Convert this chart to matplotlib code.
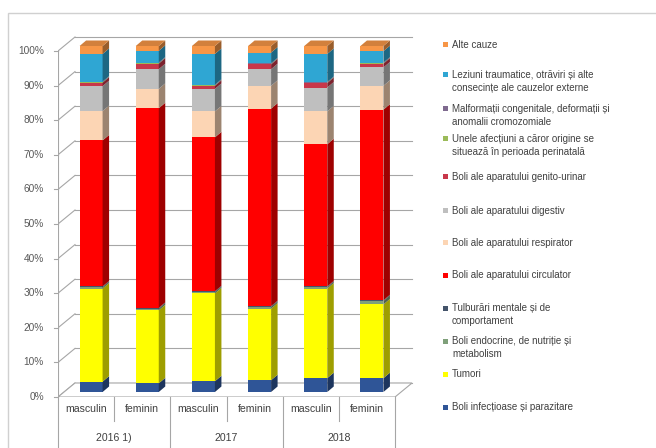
import matplotlib
matplotlib.use("Agg")
import matplotlib.pyplot as plt
from matplotlib.patches import Polygon, Rectangle
from matplotlib.colors import to_rgb
import numpy as np

plt.rcParams['font.family'] = ['Liberation Sans', 'DejaVu Sans']

# --- data (percent of deaths by cause, stacked bottom -> top) ---
bar_labels = ["masculin", "feminin", "masculin", "feminin", "masculin", "feminin"]
years = ["2016 1)", "2017", "2018"]

cause_names = [
    "Boli infecțioase și parazitare",
    "Tumori",
    "Boli endocrine, de nutriție și\nmetabolism",
    "Tulburări mentale și de\ncomportament",
    "Boli ale aparatului circulator",
    "Boli ale aparatului respirator",
    "Boli ale aparatului digestiv",
    "Boli ale aparatului genito-urinar",
    "Unele afecțiuni a căror origine se\nsituează în perioada perinatală",
    "Malformații congenitale, deformații și\nanomalii cromozomiale",
    "Leziuni traumatice, otrăviri și alte\nconsecințe ale cauzelor externe",
    "Alte cauze",
]
cause_colors = [
    "#2F5597", "#FFFF00", "#7FA07A", "#44546A", "#FF0000", "#FCD5B4",
    "#BFBFBF", "#C8374A", "#9BBB59", "#7F6A8F", "#2FA6D3", "#F79646",
]

infectioase = [3.0, 2.5, 3.1, 3.4, 4.0, 4.0]
tumori      = [26.9, 21.1, 25.4, 20.7, 25.9, 21.3]
endocrine   = [0.4, 0.5, 0.4, 0.5, 0.4, 1.0]
mentale     = [0.2, 0.2, 0.2, 0.2, 0.2, 0.2]
circulator  = [42.2, 57.7, 44.5, 57.1, 41.1, 55.1]
respirator  = [8.5, 5.6, 7.5, 6.6, 9.5, 6.9]
digestiv    = [7.2, 5.7, 6.5, 4.8, 6.9, 5.3]
genito      = [1.0, 1.6, 0.9, 1.4, 1.3, 1.1]
perinatal   = [0.1, 0.1, 0.1, 0.1, 0.1, 0.1]
malformatii = [0.2, 0.2, 0.2, 0.2, 0.2, 0.2]
leziuni     = [8.0, 3.4, 8.9, 3.1, 8.1, 3.3]
alte        = [2.3, 1.4, 2.3, 1.9, 2.3, 1.5]

series = [infectioase, tumori, endocrine, mentale, circulator, respirator,
          digestiv, genito, perinatal, malformatii, leziuni, alte]

yticks = list(range(0, 101, 10))

# --- figure geometry ---
W, H = 656, 448
fig = plt.figure(figsize=(W / 100, H / 100), dpi=100)


def fx(px):
    return px / W


def fy(py):
    return 1 - py / H


# outer chart frame
fig.patches.append(Rectangle((fx(8), fy(H + 20)), 1.2, fy(13) - fy(H + 20),
                             transform=fig.transFigure, fill=False,
                             edgecolor="#D0D0D0", linewidth=1.0))

PX_CAT = 56.17   # pixels per category
PX_PCT = 3.46    # pixels per percent
left_px, bottom_px, right_px, top_px = 58, 397, 430, 25
ax = fig.add_axes([fx(left_px), fy(bottom_px), fx(right_px) - fx(left_px),
                   fy(top_px) - fy(bottom_px)])
ax.set_xlim(-0.5, -0.5 + (right_px - left_px) / PX_CAT)
ax.set_ylim(0, (bottom_px - top_px) / PX_PCT)
ax.axis("off")

n = len(bar_labels)
x = np.arange(n)

# depth offsets (data units)
WALL_DX, WALL_DY = 17 / PX_CAT, 14 / PX_PCT
SHIFT_X, SHIFT_Y = 5 / PX_CAT, 5 / PX_PCT
BAR_DX, BAR_DY = 6.5 / PX_CAT, 5.5 / PX_PCT
BAR_W = 23 / PX_CAT
x_front_l, x_front_r = -0.5, n - 0.5

grid_c = "#A6A6A6"
# back-wall gridlines and their diagonals to the front axis
for v in yticks:
    ax.plot([x_front_l, x_front_l + WALL_DX], [v, v + WALL_DY], color=grid_c,
            lw=0.8, zorder=1)
    ax.plot([x_front_l + WALL_DX, x_front_r + WALL_DX], [v + WALL_DY, v + WALL_DY],
            color=grid_c, lw=0.8, zorder=1)
# floor
ax.add_patch(Polygon([(x_front_l, 0), (x_front_r, 0),
                      (x_front_r + WALL_DX, WALL_DY), (x_front_l + WALL_DX, WALL_DY)],
                     closed=True, facecolor="white", edgecolor=grid_c, lw=0.8,
                     zorder=1.5))
# vertical value axis with ticks and labels
ax.plot([x_front_l, x_front_l], [0, 100], color=grid_c, lw=0.8, zorder=2)
for v in yticks:
    ax.plot([x_front_l - 4 / PX_CAT, x_front_l], [v, v], color=grid_c, lw=0.8,
            zorder=2, clip_on=False)
    ax.text(x_front_l - 14 / PX_CAT, v, f"{v}%", ha="right", va="center",
            fontsize=7.3, color="#595959", clip_on=False)


def shade(c, f):
    r, g, b = to_rgb(c)
    return (r * f, g * f, b * f)


# 3-D style stacked columns
data = np.array(series)
cum = np.vstack([np.zeros(n), np.cumsum(data, axis=0)])
for i in range(n):
    xl = x[i] + SHIFT_X - BAR_W / 2
    xr = xl + BAR_W
    for k, col in enumerate(cause_colors):
        b0 = cum[k, i] + SHIFT_Y
        b1 = cum[k + 1, i] + SHIFT_Y
        ax.bar(xl, data[k, i], bottom=b0, width=BAR_W, align="edge",
               color=col, edgecolor="none", zorder=3)
        ax.add_patch(Polygon([(xr, b0), (xr + BAR_DX, b0 + BAR_DY),
                              (xr + BAR_DX, b1 + BAR_DY), (xr, b1)],
                             closed=True, facecolor=shade(col, 0.62),
                             edgecolor="none", zorder=3))
    top = cum[-1, i] + SHIFT_Y
    ax.add_patch(Polygon([(xl, top), (xr, top), (xr + BAR_DX, top + BAR_DY),
                          (xl + BAR_DX, top + BAR_DY)], closed=True,
                         facecolor=shade(cause_colors[-1], 0.85),
                         edgecolor="none", zorder=3))

# category axis below the floor (two levels)
trans = ax.get_xaxis_transform()


def ypx(py):
    return (bottom_px - py) / (bottom_px - top_px)


for i in range(n + 1):
    xb = i - 0.5
    deep = (i % 2 == 0)
    ax.plot([xb, xb], [ypx(397), ypx(452 if deep else 421)], transform=trans,
            color=grid_c, lw=0.8, clip_on=False)
for i, lab in enumerate(bar_labels):
    ax.text(i, ypx(409), lab, transform=trans, ha="center", va="center",
            fontsize=7.6, color="#404040", clip_on=False)
for j, yr in enumerate(years):
    ax.text(2 * j + 0.5, ypx(438), yr, transform=trans, ha="center",
            va="center", fontsize=7.6, color="#404040", clip_on=False)

# legend (top entry = top of the stack)
legend_y = [45, 75, 109, 139, 177, 211, 243, 275, 308, 341, 374, 407]
for idx, ly in zip(range(len(cause_names) - 1, -1, -1), legend_y):
    fig.patches.append(Rectangle((fx(443), fy(ly + 2.5)), 5 / W, 5 / H,
                                 transform=fig.transFigure,
                                 facecolor=cause_colors[idx], edgecolor="none"))
    fig.text(fx(452), fy(ly - 5.5), cause_names[idx], ha="left", va="top",
             fontsize=7, color="#404040", linespacing=1.45)

fig.savefig("out.png", dpi=100)
